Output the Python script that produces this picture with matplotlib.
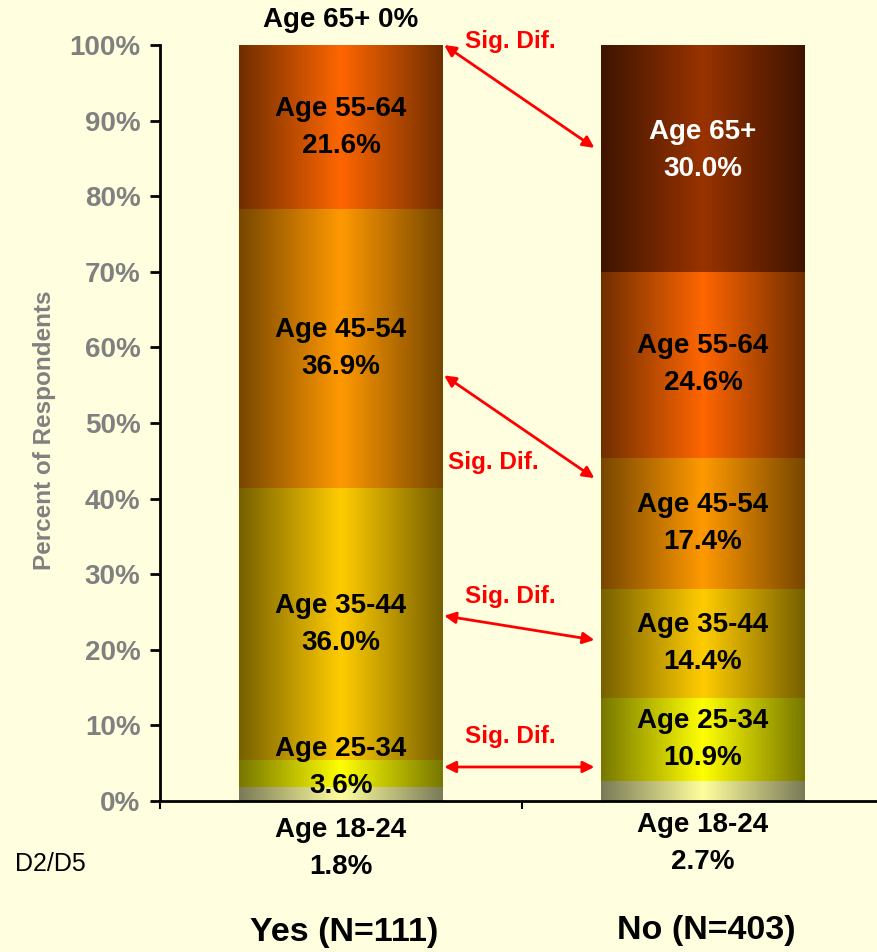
import matplotlib
matplotlib.use("Agg")
import matplotlib.pyplot as plt
import numpy as np
from matplotlib.colors import LinearSegmentedColormap

plt.rcParams['font.family'] = ['Liberation Sans', 'DejaVu Sans']

# ---- data ----
categories = ['Yes (N=111)', 'No (N=403)']
age_groups = ['Age 18-24', 'Age 25-34', 'Age 35-44', 'Age 45-54', 'Age 55-64', 'Age 65+']
yes_vals = [1.8, 3.6, 36.0, 36.9, 21.6, 0.0]
no_vals = [2.7, 10.9, 14.4, 17.4, 24.6, 30.0]
yes_labels = ['1.8%', '3.6%', '36.0%', '36.9%', '21.6%', '0%']
no_labels = ['2.7%', '10.9%', '14.4%', '17.4%', '24.6%', '30.0%']
yticks = [0, 10, 20, 30, 40, 50, 60, 70, 80, 90, 100]
ytick_labels = ['0%', '10%', '20%', '30%', '40%', '50%', '60%', '70%', '80%', '90%', '100%']

# gradient colours: (edge, centre)
seg_colors = [
    ('#7A7A58', '#FFFF9E'),
    ('#777700', '#FFFF00'),
    ('#776000', '#FFCC00'),
    ('#774700', '#FF9900'),
    ('#702E00', '#FF6600'),
    ('#3E1400', '#993300'),
]
text_colors = ['black', 'black', 'black', 'black', 'black', 'white']

BG = '#FFFFE0'
fig = plt.figure(figsize=(8.78, 9.52), dpi=100, facecolor=BG)
W, H = 878, 952
ax = fig.add_axes([160 / W, (H - 801) / H, 718 / W, (801 - 45) / H])
ax.set_facecolor(BG)

bar_w = 0.563
grad = np.linspace(0, 1, 256).reshape(1, -1)

for xi, vals in enumerate([yes_vals, no_vals]):
    bottom = 0.0
    for k, v in enumerate(vals):
        if v > 0:
            edge, centre = seg_colors[k]
            cmap = LinearSegmentedColormap.from_list('g%d' % k, [edge, centre, edge])
            ax.imshow(grad, cmap=cmap, aspect='auto', interpolation='bilinear',
                      extent=(xi - bar_w / 2, xi + bar_w / 2, bottom, bottom + v),
                      zorder=2)
        bottom += v

ax.set_xlim(-0.5, -0.5 + 718 / 362)
ax.set_ylim(0, 100)

# ---- in-bar labels ----
lbl_kw = dict(ha='center', va='center', fontsize=20, fontweight='bold',
              linespacing=1.55, clip_on=False, zorder=5)
overrides = {
    (0, 0): -6.3, (0, 1): 4.4, (0, 5): 103.3,
    (1, 0): -5.6, (1, 5): 86.0,
}
for xi, (vals, labs) in enumerate([(yes_vals, yes_labels), (no_vals, no_labels)]):
    bottom = 0.0
    for k, v in enumerate(vals):
        y = overrides.get((xi, k), bottom + v / 2)
        if (xi, k) == (0, 5):
            txt = f'{age_groups[k]} {labs[k]}'
            col = 'black'
        else:
            txt = f'{age_groups[k]}\n{labs[k]}'
            col = text_colors[k] if 0 < y < 100 else 'black'
        ax.text(xi, y, txt, color=col, **lbl_kw)
        bottom += v

# category labels
cat_y = [-17.4, -17.1]
for xi, c in enumerate(categories):
    ax.text(xi + 0.01, cat_y[xi], c, ha='center', va='center', fontsize=24.5,
            fontweight='bold', clip_on=False)

# ---- significance arrows ----
arrows = [((0.285, 100.0), (0.70, 86.4)),
          ((0.285, 56.3), (0.70, 42.7)),
          ((0.285, 24.5), (0.70, 21.3)),
          ((0.285, 4.5), (0.70, 4.5))]
for a, b in arrows:
    ax.annotate('', xy=b, xytext=a,
                arrowprops=dict(arrowstyle='<|-|>', color='red', lw=2,
                                mutation_scale=17, shrinkA=0, shrinkB=0),
                zorder=6, annotation_clip=False)
sig_pos = [(0.467, 100.4), (0.42, 44.8), (0.467, 27.1), (0.467, 8.5)]
for x, y in sig_pos:
    ax.text(x, y, 'Sig. Dif.', color='red', fontsize=17.5, fontweight='bold',
            ha='center', va='center', clip_on=False, zorder=6)

# ---- axes styling ----
for s in ['top', 'right']:
    ax.spines[s].set_visible(False)
for s in ['left', 'bottom']:
    ax.spines[s].set_linewidth(2)
    ax.spines[s].set_color('black')
ax.set_yticks(yticks)
ax.set_yticklabels(ytick_labels, fontsize=20, fontweight='bold', color='#808080')
ax.tick_params(axis='y', direction='out', length=7, width=2, pad=7, colors='black',
               labelcolor='#808080')
ax.set_xticks([-0.5, 0.5])
ax.set_xticklabels(['', ''])
ax.tick_params(axis='x', direction='out', length=6, width=1.5)

fig.text(45 / W, (H - 430) / H, 'Percent of Respondents', rotation=90,
         ha='center', va='center', fontsize=17.5, fontweight='bold', color='#808080')
fig.text(50 / W, (H - 864) / H, 'D2/D5', ha='center', va='center', fontsize=18,
         color='black')

fig.savefig('out.png', dpi=100, facecolor=BG)
